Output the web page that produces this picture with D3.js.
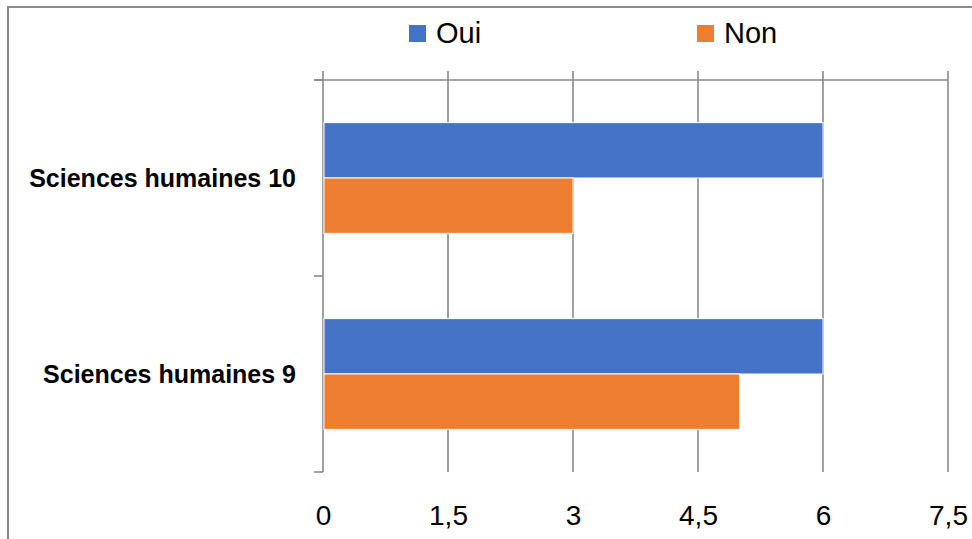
<!DOCTYPE html>
<html>
<head>
<meta charset="utf-8">
<script src="https://cdn.jsdelivr.net/npm/d3@7"></script>
<style>
  body { margin: 0; background: #fff; }
  text { font-family: "Liberation Sans", Arial, sans-serif; fill: #000; }
</style>
</head>
<body>
<svg id="chart" width="972" height="539"></svg>
<script>
// data
let categories = ["Sciences humaines 10", "Sciences humaines 9"];
let seriesNames = ["Oui", "Non"];
let valuesOui = [6, 6];
let valuesNon = [3, 5];
let tickValues = [0, 1.5, 3, 4.5, 6, 7.5];
let colors = ["#4472C4", "#ED7D31"];

let gridColor = "#8a8a8a";
let svg = d3.select("#chart");

// outer frame (runs past the right and bottom edge)
svg.append("rect")
  .attr("x", 8).attr("y", 7)
  .attr("width", 990).attr("height", 560)
  .attr("fill", "none")
  .attr("stroke", gridColor)
  .attr("stroke-width", 2);

let x = d3.scaleLinear().domain([0, 7.5]).range([323, 948]);
let y = d3.scaleBand().domain(categories).range([80, 472]).padding(0);
let ySub = d3.scaleBand().domain(seriesNames).range([0, y.bandwidth()]).paddingInner(0).paddingOuter(0.77);

let fr = d3.formatLocale({ decimal: ",", thousands: " ", grouping: [3], currency: ["", " €"] });
let fmt = fr.format("~g");

// vertical gridlines, poking a little above the top line
svg.append("g")
  .selectAll("line")
  .data(tickValues)
  .join("line")
  .attr("x1", d => x(d)).attr("x2", d => x(d))
  .attr("y1", 71).attr("y2", 472)
  .attr("stroke", gridColor)
  .attr("stroke-width", 1.6);

// top line of the plot
svg.append("line")
  .attr("x1", 314).attr("x2", x(7.5))
  .attr("y1", 80).attr("y2", 80)
  .attr("stroke", gridColor)
  .attr("stroke-width", 1.6);

// category tick marks between groups
let catTicks = [80, y(categories[1]), 472];
svg.append("g")
  .selectAll("line")
  .data(catTicks)
  .join("line")
  .attr("x1", 314).attr("x2", x(0))
  .attr("y1", d => d).attr("y2", d => d)
  .attr("stroke", gridColor)
  .attr("stroke-width", 1.6);

// bars
let rows = [];
categories.forEach((c, i) => {
  rows.push({ cat: c, s: "Oui", v: valuesOui[i] });
  rows.push({ cat: c, s: "Non", v: valuesNon[i] });
});

svg.append("g")
  .selectAll("rect")
  .data(rows)
  .join("rect")
  .attr("x", x(0) + 1)
  .attr("y", d => y(d.cat) + ySub(d.s))
  .attr("width", d => x(d.v) - x(0) - 1)
  .attr("height", ySub.bandwidth())
  .attr("fill", d => colors[seriesNames.indexOf(d.s)])
  .attr("stroke", "#fff")
  .attr("stroke-width", 1);

// value labels at the bottom
let xAxis = d3.axisBottom(x).tickValues(tickValues).tickSize(0).tickPadding(0).tickFormat(fmt);
let gx = svg.append("g").attr("transform", "translate(0,525)").call(xAxis);
gx.select(".domain").remove();
gx.selectAll("text")
  .attr("dy", 0)
  .attr("y", 0)
  .style("font-size", "28px")
  .style("font-family", "Liberation Sans, Arial, sans-serif");

// category labels
svg.append("g")
  .selectAll("text")
  .data(categories)
  .join("text")
  .attr("x", 296)
  .attr("y", d => y(d) + y.bandwidth() / 2 + 9)
  .attr("text-anchor", "end")
  .style("font-size", "25px")
  .style("font-weight", "bold")
  .text(d => d);

// legend
let legendX = [409, 697];
let legend = svg.append("g")
  .selectAll("g")
  .data(seriesNames)
  .join("g")
  .attr("transform", (d, i) => "translate(" + legendX[i] + ",25)");
legend.append("rect")
  .attr("width", 17).attr("height", 17)
  .attr("fill", (d, i) => colors[i]);
legend.append("text")
  .attr("x", 27).attr("y", 18)
  .style("font-size", "29px")
  .text(d => d);
</script>
</body>
</html>
